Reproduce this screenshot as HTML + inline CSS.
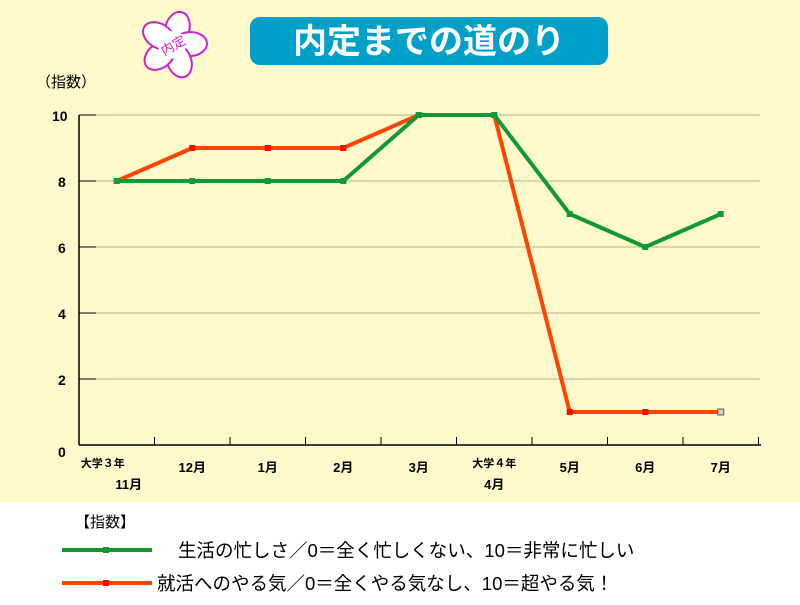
<!DOCTYPE html>
<html><head><meta charset="utf-8"><style>
body{margin:0;width:800px;height:600px;overflow:hidden;background:#fff;font-family:"Liberation Sans","Noto Sans CJK JP",sans-serif}
svg text{font-family:"Liberation Sans","Noto Sans CJK JP",sans-serif}
</style></head><body>
<svg width="800" height="600">
<rect x="0" y="0" width="800" height="502" fill="#fff9cc"/>
<g transform="translate(173,45) rotate(15)">
<g fill="#fff" stroke="#cc22cc" stroke-width="2">
<ellipse cx="0" cy="-17" rx="12" ry="17" transform="rotate(0)"/>
<ellipse cx="0" cy="-17" rx="12" ry="17" transform="rotate(72)"/>
<ellipse cx="0" cy="-17" rx="12" ry="17" transform="rotate(144)"/>
<ellipse cx="0" cy="-17" rx="12" ry="17" transform="rotate(216)"/>
<ellipse cx="0" cy="-17" rx="12" ry="17" transform="rotate(288)"/>
</g>
<rect x="-13" y="-13" width="26" height="26" fill="#fff"/>
<text x="0" y="5" font-size="13" fill="#cc22cc" text-anchor="middle" transform="rotate(-45)">内定</text>
</g>
<rect x="250" y="17" width="358" height="48" rx="10" fill="#00a0c8"/>
<text x="429" y="53" font-size="34" font-weight="bold" fill="#fff" text-anchor="middle">内定までの道のり</text>
<text x="36" y="87" font-size="15" fill="#000">（指数）</text>
<g id="grid"></g><g id="axes"></g><g id="series"></g>
<text x="75" y="527" font-size="15" fill="#000">【指数】</text>
<g>
<line x1="62" y1="550" x2="152" y2="550" stroke="#119933" stroke-width="4"/>
<rect x="103" y="547" width="6" height="6" fill="#119933"/>
<text x="178" y="557" font-size="18.5" fill="#000">生活の忙しさ／0＝全く忙しくない、10＝非常に忙しい</text>
</g>
<g>
<line x1="62" y1="583" x2="152" y2="583" stroke="#ff4400" stroke-width="4"/>
<rect x="103" y="580" width="6" height="6" fill="#ee1100"/>
<text x="157" y="590" font-size="18.5" fill="#000">就活へのやる気／0＝全くやる気なし、10＝超やる気！</text>
</g>
</svg>
<script>
const categories=["大学３年|11月","12月","1月","2月","3月","大学４年|4月","5月","6月","7月"];
const busy=[8,8,8,8,10,10,7,6,7];
const motivation=[8,9,9,9,10,10,1,1,1];
const yTicks=[0,2,4,6,8,10];
const NS="http://www.w3.org/2000/svg";
const x0=79,cw=75.5,yb=445,yu=33;
const X=i=>x0+cw*(i+0.5), Y=v=>yb-v*yu;
function mk(t,a,p){const e=document.createElementNS(NS,t);for(const k in a)e.setAttribute(k,a[k]);p.appendChild(e);return e;}
const g=document.getElementById('grid'),ax=document.getElementById('axes'),s=document.getElementById('series');
yTicks.forEach(v=>{
 if(v>0){const l=mk('line',{x1:x0,x2:760,y1:Y(v),y2:Y(v),stroke:'#b8b08a','stroke-width':1},g);
 
 
 mk('line',{x1:x0,x2:x0+17,y1:Y(v),y2:Y(v),stroke:'#000'},ax);}
 const t=mk('text',{x:v==10?52:58,y:Y(v)+(v==0?12:6),'font-size':14,'font-weight':'bold'},ax);
 t.textContent=v;
 
 
});
mk('line',{x1:x0,x2:x0,y1:Y(10),y2:yb,stroke:'#000','stroke-width':1.5},ax);
mk('line',{x1:x0,x2:761,y1:yb,y2:yb,stroke:'#000','stroke-width':1.5},ax);
categories.forEach((c,i)=>{
 const xt=x0+cw*(i+1);
 mk('line',{x1:xt,x2:xt,y1:yb-8,y2:yb,stroke:'#000'},ax);
 const parts=c.split('|');
 const t=mk('text',{x:X(i),y:parts.length>1?467:472,'font-size':13,'text-anchor':'middle','font-weight':'bold'},ax);
 
 
 if(parts.length>1){t.setAttribute('font-size',11);t.textContent=parts[0];
  const t2=mk('text',{x:X(i)+(i==0?12:0),y:489,'font-size':13,'text-anchor':'middle','font-weight':'bold'},ax);t2.textContent=parts[1];
  
  
  if(i==0)t.setAttribute('x',X(i)-14);
 } else t.textContent=c;
});
function draw(vals,col,mc,name){
 const p=mk('polyline',{points:vals.map((v,i)=>X(i)+','+Y(v)).join(' '),fill:'none',stroke:col,'stroke-width':4,'stroke-linejoin':'round'},s);
 
 
 vals.forEach((v,i)=>{const last=name=='motivation'&&i==vals.length-1;
  const r=mk('rect',{x:X(i)-3,y:Y(v)-3,width:6,height:6,fill:last?'#ccc':mc,stroke:last?'#666':'none','stroke-width':1},s);
  
  });
}
draw(motivation,'#ff4400','#ee1100','motivation');
draw(busy,'#119933','#119933','busy');
</script>
</body></html>
